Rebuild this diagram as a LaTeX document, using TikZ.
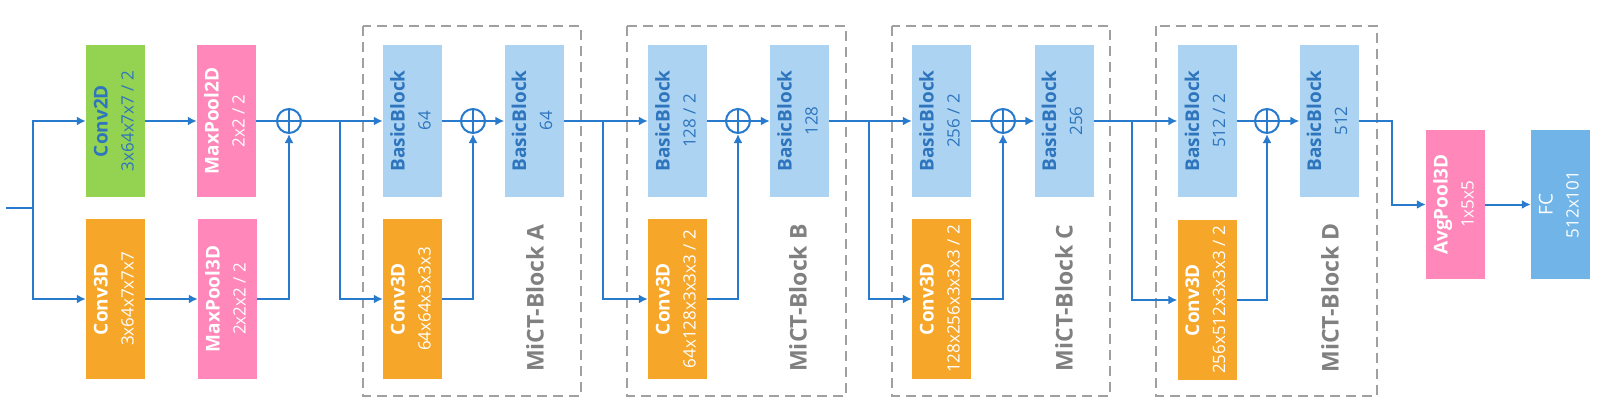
\documentclass[tikz,border=0pt]{standalone}
\usepackage{fontspec}
\setmainfont{Open Sans}
\usepackage{graphicx}
\usetikzlibrary{arrows.meta}
\definecolor{lineblue}{RGB}{40,122,204}
\definecolor{txtblue}{RGB}{46,117,190}
\definecolor{lblue}{RGB}{172,212,242}
\definecolor{fcblue}{RGB}{112,180,232}
\definecolor{pinkc}{RGB}{255,135,185}
\definecolor{orangec}{RGB}{246,167,42}
\definecolor{greenc}{RGB}{148,210,82}
\definecolor{graytxt}{RGB}{128,128,128}
\definecolor{graydash}{RGB}{160,160,160}
\newcommand\twoline[2]{\rotatebox{90}{\fontsize{19}{26}\selectfont\begin{tabular}{@{}c@{}}{\bfseries #1}\\ {\fontsize{17}{26}\selectfont #2}\end{tabular}}}
\newcommand\twolineplain[2]{\rotatebox{90}{\fontsize{19}{26}\selectfont\begin{tabular}{@{}c@{}}#1\\ {\fontsize{17}{26}\selectfont #2}\end{tabular}}}
\tikzset{
  blk/.style={rectangle, inner sep=0pt, minimum width=59pt, minimum height=152pt, align=center},
  lowblk/.style={blk, minimum height=160pt},
  c2d/.style={blk, fill=greenc, text=txtblue},
  c3d/.style={lowblk, fill=orangec, text=white},
  mpool/.style={blk, fill=pinkc, text=white},
  mpoollow/.style={lowblk, fill=pinkc, text=white},
  basic/.style={blk, fill=lblue, text=txtblue},
  plusnode/.style={circle, draw=lineblue, line width=2pt, minimum size=24pt, inner sep=0pt,
    path picture={\draw[lineblue, line width=2pt] (path picture bounding box.north) -- (path picture bounding box.south) (path picture bounding box.west) -- (path picture bounding box.east);}},
  conn/.style={draw=lineblue, line width=2pt},
  arr/.style={conn, -{Latex[length=9pt,width=9pt]}},
  dbox/.style={draw=graydash, line width=2pt, dash pattern=on 10pt off 6pt},
  blabel/.style={rotate=90, text=graytxt, font=\bfseries\fontsize{23}{26}\selectfont}
}
\begin{document}
\begin{tikzpicture}[x=1pt,y=-1pt]
\useasboundingbox (0,0) rectangle (1600,420);
% dashed boxes
\draw[dbox] (363,26) rectangle (581,396);
\draw[dbox] (627,26) rectangle (846,396);
\draw[dbox] (892,26) rectangle (1110,396);
\draw[dbox] (1156,26) rectangle (1377,396);
% stem
\node[c2d] (conv2d) at (115.5,121) {\twoline{Conv2D}{3x64x7x7 / 2}};
\node[c3d] (conv3d) at (115.5,299) {\twoline{Conv3D}{3x64x7x7x7}};
\node[mpool] (mp2d) at (226.5,121) {\twoline{MaxPool2D}{2x2 / 2}};
\node[mpoollow] (mp3d) at (227.5,299) {\twoline{MaxPool3D}{2x2x2 / 2}};
\node[plusnode] (p0) at (289,121) {};
% block A
\node[basic] (bbA1) at (412.5,121) {\twoline{BasicBlock}{64}};
\node[c3d] (c3A) at (412.5,299) {\twoline{Conv3D}{64x64x3x3x3}};
\node[plusnode] (pA) at (473,121) {};
\node[basic] (bbA2) at (534,121) {\twoline{BasicBlock}{64}};
\node[blabel] (lA) at (535,298) {MiCT-Block A};
% block B
\node[basic] (bbB1) at (677.5,121) {\twoline{BasicBlock}{128 / 2}};
\node[c3d] (c3B) at (677.5,299) {\twoline{Conv3D}{64x128x3x3x3 / 2}};
\node[plusnode] (pB) at (738,121) {};
\node[basic] (bbB2) at (799.5,121) {\twoline{BasicBlock}{128}};
\node[blabel] (lB) at (798,298) {MiCT-Block B};
% block C
\node[basic] (bbC1) at (941.5,121) {\twoline{BasicBlock}{256 / 2}};
\node[c3d] (c3C) at (941.5,299) {\twoline{Conv3D}{128x256x3x3x3 / 2}};
\node[plusnode] (pC) at (1003,121) {};
\node[basic] (bbC2) at (1064,121) {\twoline{BasicBlock}{256}};
\node[blabel] (lC) at (1064,298) {MiCT-Block C};
% block D
\node[basic] (bbD1) at (1207,121) {\twoline{BasicBlock}{512 / 2}};
\node[c3d] (c3D) at (1207,300) {\twoline{Conv3D}{256x512x3x3x3 / 2}};
\node[plusnode] (pD) at (1267,121) {};
\node[basic] (bbD2) at (1329,121) {\twoline{BasicBlock}{512}};
\node[blabel] (lD) at (1330,298) {MiCT-Block D};
% head
\node[blk, minimum height=149pt, fill=pinkc, text=white] (avg) at (1455.5,204.5) {\twoline{AvgPool3D}{1x5x5}};
\node[blk, minimum height=149pt, fill=fcblue, text=white] (fc) at (1560.5,204.5) {\twolineplain{FC}{512x101}};
% coordinates
\coordinate (in) at (6,208);
\coordinate (j0) at (33,208);
\coordinate (bA) at (340,121);
\coordinate (bB) at (603,121);
\coordinate (bC) at (869,121);
\coordinate (bD) at (1132,121);
\coordinate (t1) at (1392,204.5);
% connectors
\draw[conn] (in) -- (j0);
\draw[arr] (j0) |- (conv2d.west);
\draw[arr] (j0) |- (conv3d.west);
\draw[arr] (conv2d) -- (mp2d);
\draw[arr] (conv3d) -- (mp3d);
\draw[conn] (mp2d) -- (p0);
\draw[arr] (mp3d) -| (p0);
\draw[arr] (p0) -- (bbA1);
\draw[arr] (bA) |- (c3A.west);
\draw[conn] (bbA1) -- (pA);
\draw[arr] (c3A) -| (pA);
\draw[arr] (pA) -- (bbA2);
\draw[arr] (bbA2) -- (bbB1);
\draw[arr] (bB) |- (c3B.west);
\draw[conn] (bbB1) -- (pB);
\draw[arr] (c3B) -| (pB);
\draw[arr] (pB) -- (bbB2);
\draw[arr] (bbB2) -- (bbC1);
\draw[arr] (bC) |- (c3C.west);
\draw[conn] (bbC1) -- (pC);
\draw[arr] (c3C) -| (pC);
\draw[arr] (pC) -- (bbC2);
\draw[arr] (bbC2) -- (bbD1);
\draw[arr] (bD) |- (c3D.west);
\draw[conn] (bbD1) -- (pD);
\draw[arr] (c3D) -| (pD);
\draw[arr] (pD) -- (bbD2);
\draw[arr] (bbD2.east) -| (t1) -- (avg.west);
\draw[arr] (avg) -- (fc);
\end{tikzpicture}
\end{document}
